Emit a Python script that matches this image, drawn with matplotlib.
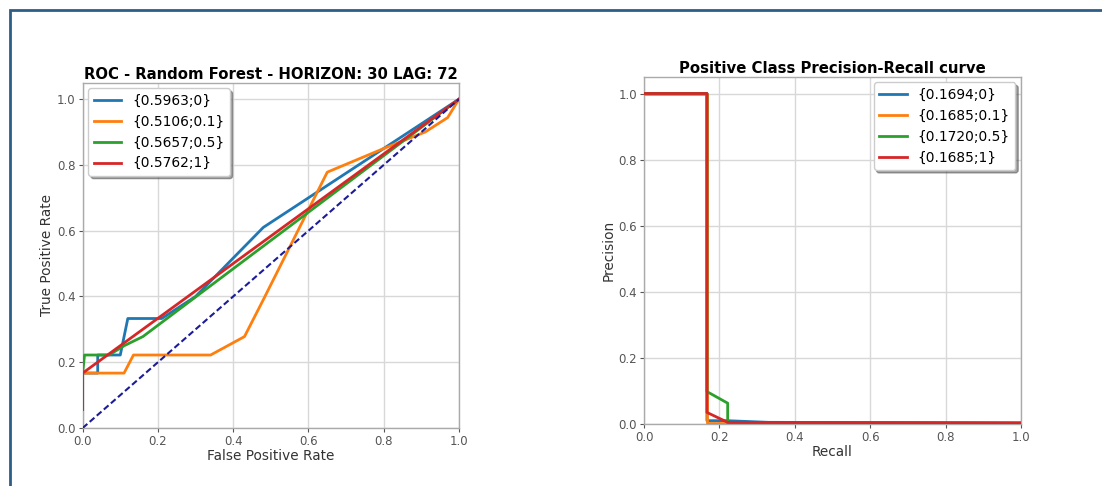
import matplotlib
matplotlib.use("Agg")
import matplotlib.pyplot as plt
from matplotlib.patches import Rectangle

# ROC curves (false positive rate, true positive rate)
roc_labels = ["{0.5963;0}", "{0.5106;0.1}", "{0.5657;0.5}", "{0.5762;1}"]
roc_fpr = [
    [0.0, 0.04, 0.04, 0.10, 0.12, 0.21, 0.30, 0.48, 1.0],
    [0.0, 0.11, 0.135, 0.34, 0.43, 0.48, 0.65, 0.80, 0.91, 0.97, 1.0],
    [0.0, 0.005, 0.07, 0.11, 0.16, 1.0],
    [0.0, 0.0, 1.0],
]
roc_tpr = [
    [0.167, 0.167, 0.222, 0.222, 0.333, 0.333, 0.40, 0.61, 1.0],
    [0.167, 0.167, 0.222, 0.222, 0.278, 0.39, 0.778, 0.85, 0.90, 0.944, 1.0],
    [0.167, 0.222, 0.222, 0.25, 0.278, 1.0],
    [0.056, 0.167, 1.0],
]

# precision-recall curves
pr_labels = ["{0.1694;0}", "{0.1685;0.1}", "{0.1720;0.5}", "{0.1685;1}"]
pr_recall = [
    [0.0, 0.167, 0.167, 0.22, 0.33, 1.0],
    [0.0, 0.167, 0.167, 0.167, 1.0],
    [0.0, 0.167, 0.167, 0.222, 0.222, 1.0],
    [0.0, 0.167, 0.167, 0.222, 1.0],
]
pr_precision = [
    [1.0, 1.0, 0.01, 0.01, 0.005, 0.003],
    [1.0, 1.0, 0.035, 0.002, 0.002],
    [1.0, 1.0, 0.098, 0.063, 0.005, 0.003],
    [1.0, 1.0, 0.035, 0.005, 0.003],
]

colors = ["#1f77b4", "#ff7f0e", "#2ca02c", "#d62728"]
ticks = [0.0, 0.2, 0.4, 0.6, 0.8, 1.0]


def style_axes(ax):
    ax.set_facecolor("white")
    ax.grid(True, color="#d8d8d8", linewidth=1.0)
    ax.set_axisbelow(True)
    for s in ax.spines.values():
        s.set_color("#aaaaaa")
        s.set_linewidth(1.0)
    ax.tick_params(colors="#555555", labelsize=8.5, length=3, width=0.8, pad=2)
    ax.set_xticks(ticks)
    ax.set_yticks(ticks)
    ax.set_xlim(0, 1)
    ax.set_ylim(0, 1.05)


fig = plt.figure(figsize=(11.02, 4.86), dpi=100)
fig.patches.append(Rectangle((10 / 1102, -0.1), 1.2, 1 - 10 / 486 + 0.1,
                             transform=fig.transFigure, fill=False,
                             edgecolor="#2e5d87", linewidth=2, zorder=0))

ax1 = fig.add_axes([0.075, 0.1193, 0.3415, 0.7105])
style_axes(ax1)
for fpr, tpr, lab, c in zip(roc_fpr, roc_tpr, roc_labels, colors):
    ax1.plot(fpr, tpr, color=c, linewidth=2, label=lab, zorder=3)
ax1.plot([0, 1], [0, 1], color="#1c1c99", linestyle=(0, (3, 1.5)),
         linewidth=1.5, zorder=3)
ax1.set_title("ROC - Random Forest - HORIZON: 30 LAG: 72", fontsize=10.7,
              fontweight="bold", pad=3)
ax1.set_xlabel("False Positive Rate", fontsize=9.8, color="#333333", labelpad=1)
ax1.set_ylabel("True Positive Rate", fontsize=9.8, color="#333333", labelpad=2)
ax1.legend(loc="upper left", fontsize=9.9, shadow=True, framealpha=1,
           edgecolor="#cccccc", borderaxespad=0.4)

ax2 = fig.add_axes([0.5844, 0.1276, 0.342, 0.714])
style_axes(ax2)
for r, p, lab, c in zip(pr_recall, pr_precision, pr_labels, colors):
    ax2.plot(r, p, color=c, linewidth=2, label=lab, zorder=3)
ax2.set_title("Positive Class Precision-Recall curve", fontsize=10.7,
              fontweight="bold", pad=3)
ax2.set_xlabel("Recall", fontsize=9.8, color="#333333", labelpad=1)
ax2.set_ylabel("Precision", fontsize=9.8, color="#333333", labelpad=2)
ax2.legend(loc="upper right", fontsize=9.9, shadow=True, framealpha=1,
           edgecolor="#cccccc", borderaxespad=0.4)

fig.savefig("out.png", dpi=100)
